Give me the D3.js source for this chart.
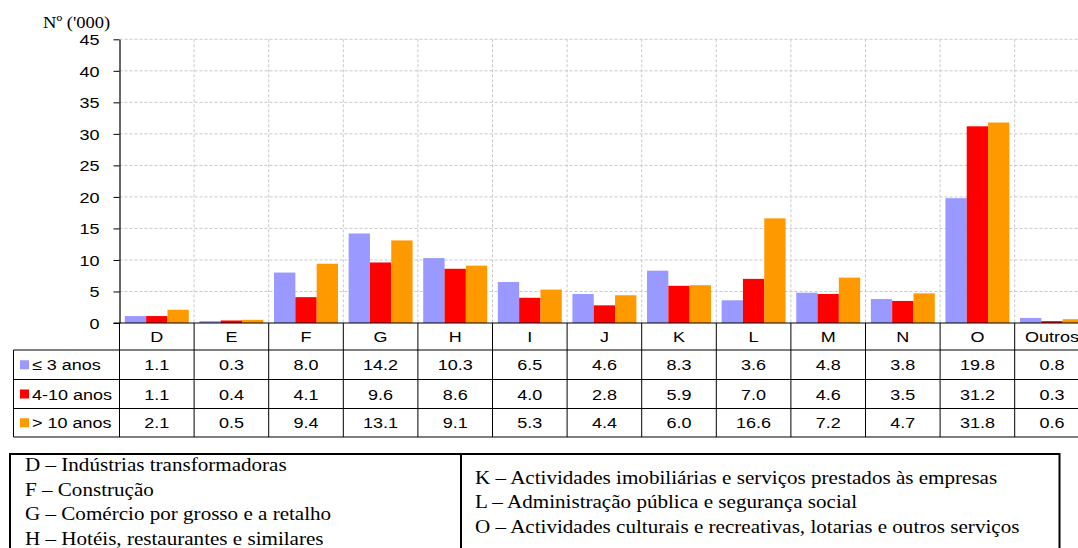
<!DOCTYPE html>
<html>
<head>
<meta charset="utf-8">
<script src="https://cdn.jsdelivr.net/npm/d3@7"></script>
<style>
  html, body { margin: 0; padding: 0; background: #fff; }
  svg { display: block; }
</style>
</head>
<body>
<svg id="chart" width="1078" height="548"></svg>
<script>
// Workers by sector and length of service (thousands)
const categories = ["D", "E", "F", "G", "H", "I", "J", "K", "L", "M", "N", "O", "Outros"];
const seriesNames = ["≤ 3 anos", "4-10 anos", "> 10 anos"];
const upTo3Years   = [1.1, 0.3, 8.0, 14.2, 10.3, 6.5, 4.6, 8.3, 3.6, 4.8, 3.8, 19.8, 0.8];
const from4To10    = [1.1, 0.4, 4.1, 9.6, 8.6, 4.0, 2.8, 5.9, 7.0, 4.6, 3.5, 31.2, 0.3];
const over10Years  = [2.1, 0.5, 9.4, 13.1, 9.1, 5.3, 4.4, 6.0, 16.6, 7.2, 4.7, 31.8, 0.6];
const yTickValues  = [0, 5, 10, 15, 20, 25, 30, 35, 40, 45];
const yTitle = "Nº ('000)";
const legendLeft = [
  "D – Indústrias transformadoras",
  "F – Construção",
  "G – Comércio por grosso e a retalho",
  "H – Hotéis, restaurantes e similares"
];
const legendRight = [
  "K – Actividades imobiliárias e serviços prestados às empresas",
  "L – Administração pública e segurança social",
  "O – Actividades culturais e recreativas, lotarias e outros serviços"
];

const seriesValues = [upTo3Years, from4To10, over10Years];
const colors = ["#9999FF", "#FF0000", "#FF9900"];

const svg = d3.select("#chart");

// layout
const plotLeft = 119.5, plotTop = 39.3, plotBottom = 323;
const step = 74.6;
const tableLeft = 13.5;
const rowTops = [323, 350, 379.5, 408.5, 437];

const sansFont = "'Liberation Sans', Arial, sans-serif";
const serifFont = "'Liberation Serif', 'Times New Roman', serif";
const sansSize = 15, sansStretch = 1.2;
const serifSize = 19, serifStretch = 1.11;

const x = d3.scaleBand()
  .domain(categories)
  .range([plotLeft, plotLeft + step * categories.length])
  .paddingInner(0).paddingOuter(0);

const xInner = d3.scaleBand()
  .domain(seriesNames)
  .range([0, x.bandwidth()])
  .paddingInner(0).paddingOuter(0.25);

const y = d3.scaleLinear().domain([0, 45]).range([plotBottom, plotTop]);

function stretchedText(g, str, px, py, anchor, font, size, sx) {
  return g.append("text")
    .attr("transform", `translate(${px},${py}) scale(${sx},1)`)
    .attr("text-anchor", anchor)
    .attr("font-family", font)
    .attr("font-size", size)
    .attr("fill", "#000")
    .text(str);
}

// gridlines
const grid = svg.append("g");
grid.selectAll("line.h")
  .data(yTickValues.filter(v => v > 0))
  .join("line")
  .attr("x1", plotLeft).attr("x2", 1078)
  .attr("y1", d => y(d)).attr("y2", d => y(d))
  .attr("stroke", "#c8c8c8").attr("stroke-width", 1)
  .attr("stroke-dasharray", "3,2");
grid.selectAll("line.v")
  .data(categories.slice(1))
  .join("line")
  .attr("x1", d => x(d)).attr("x2", d => x(d))
  .attr("y1", plotTop).attr("y2", plotBottom)
  .attr("stroke", "#c8c8c8").attr("stroke-width", 1)
  .attr("stroke-dasharray", "3,2");

// bars
const groups = svg.append("g").selectAll("g")
  .data(seriesNames.map((name, i) => ({ name, values: seriesValues[i], color: colors[i] })))
  .join("g")
  .attr("fill", d => d.color);
groups.selectAll("rect")
  .data(d => d.values.map((v, j) => ({ series: d.name, cat: categories[j], v })))
  .join("rect")
  .attr("x", d => x(d.cat) + xInner(d.series))
  .attr("width", xInner.bandwidth())
  .attr("y", d => y(d.v))
  .attr("height", d => y(0) - y(d.v));

// y axis
const yAxis = svg.append("g")
  .attr("transform", `translate(${plotLeft},0)`)
  .call(d3.axisLeft(y).tickValues(yTickValues).tickSize(6).tickSizeOuter(0).tickFormat(d3.format("d")));
yAxis.select(".domain").attr("stroke", "#000").attr("stroke-width", 1.2);
yAxis.selectAll(".tick line").attr("stroke", "#000");
yAxis.selectAll(".tick text")
  .attr("x", null).attr("dy", null)
  .attr("transform", `translate(-20,5.5) scale(${sansStretch},1)`)
  .attr("font-family", sansFont)
  .attr("font-size", sansSize)
  .attr("fill", "#000");

// axis title
stretchedText(svg, yTitle, 43, 27.5, "start", serifFont, 17.5, 1.06);

// data table
const table = svg.append("g").attr("stroke", "#000").attr("stroke-width", 1);
table.append("line").attr("x1", plotLeft - 6).attr("x2", 1078).attr("y1", rowTops[0]).attr("y2", rowTops[0]).attr("stroke-width", 1.2);
rowTops.slice(1).forEach(t => {
  table.append("line").attr("x1", tableLeft).attr("x2", 1078).attr("y1", t).attr("y2", t);
});
table.append("line").attr("x1", tableLeft).attr("x2", tableLeft).attr("y1", rowTops[1]).attr("y2", rowTops[4]);
table.selectAll("line.col")
  .data(categories)
  .join("line")
  .attr("x1", d => x(d)).attr("x2", d => x(d))
  .attr("y1", rowTops[0]).attr("y2", rowTops[4]);

const textG = svg.append("g");
categories.forEach(c => {
  stretchedText(textG, c, x(c) + x.bandwidth() / 2, (rowTops[0] + rowTops[1]) / 2 + 5.5, "middle", sansFont, sansSize, sansStretch);
});
seriesNames.forEach((name, i) => {
  const cy = (rowTops[i + 1] + rowTops[i + 2]) / 2;
  svg.append("rect")
    .attr("x", 20).attr("y", cy - 4.5).attr("width", 9).attr("height", 9)
    .attr("fill", colors[i]);
  stretchedText(textG, name, 32, cy + 5.5, "start", sansFont, sansSize, sansStretch);
  seriesValues[i].forEach((v, j) => {
    stretchedText(textG, d3.format(".1f")(v), x(categories[j]) + x.bandwidth() / 2, cy + 5.5, "middle", sansFont, sansSize, sansStretch);
  });
});

// sector key
const key = svg.append("g");
key.append("rect")
  .attr("x", 10).attr("y", 454).attr("width", 1049.5).attr("height", 120)
  .attr("fill", "none").attr("stroke", "#000").attr("stroke-width", 2);
key.append("line")
  .attr("x1", 461).attr("x2", 461).attr("y1", 454).attr("y2", 560)
  .attr("stroke", "#000").attr("stroke-width", 2);
const keyLine = 24.5;
legendLeft.forEach((t, i) => {
  stretchedText(key, t, 25, 471 + i * keyLine, "start", serifFont, serifSize, serifStretch);
});
legendRight.forEach((t, i) => {
  stretchedText(key, t, 475, 483.5 + i * keyLine, "start", serifFont, serifSize, serifStretch);
});
</script>
</body>
</html>
